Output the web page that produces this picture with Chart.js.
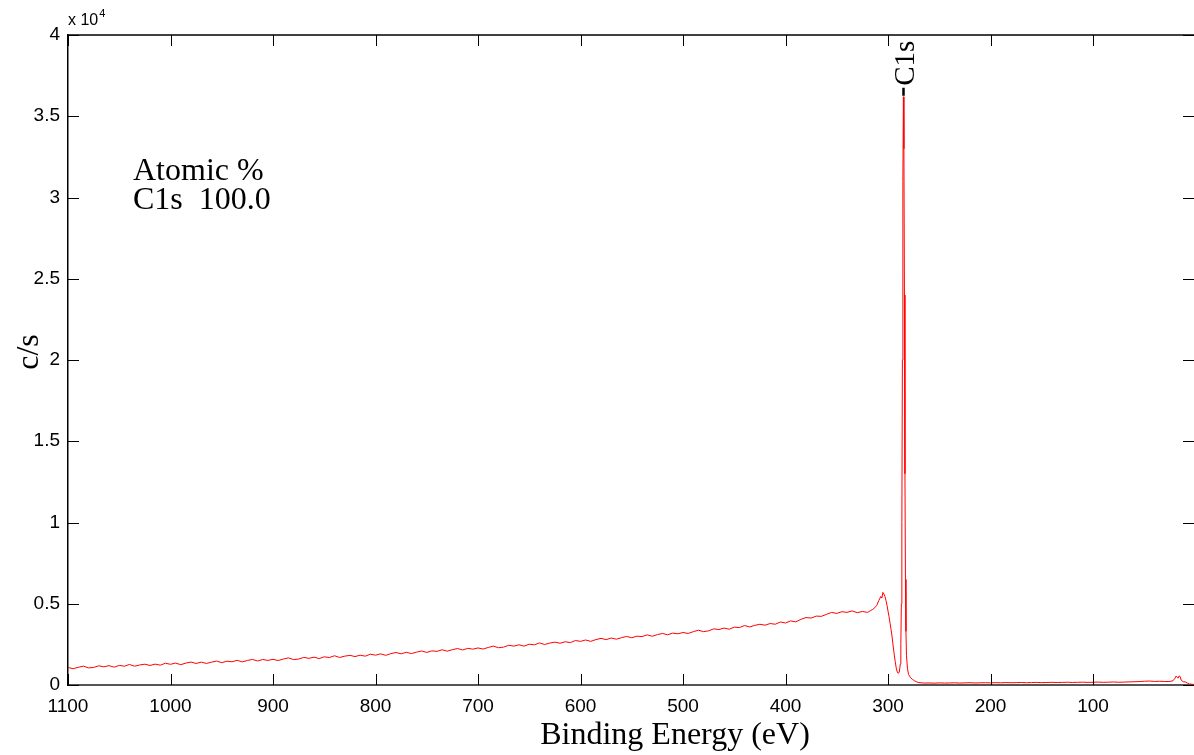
<!DOCTYPE html>
<html>
<head>
<meta charset="utf-8">
<script src="https://cdn.jsdelivr.net/npm/chart.js@4/dist/chart.umd.min.js"></script>
<style>
  html, body { margin: 0; padding: 0; background: #fff; }
  #wrap { width: 1194px; height: 755px; position: relative; }
</style>
</head>
<body>
<div id="wrap"><canvas id="c"></canvas></div>
<script>
// Binding energy (eV) of each sample
const bindingEnergy = [
  1100,1095,1090,1085,1080,1075,1070,1065,1060,1055,1050,1045,1040,1035,1030,1025,1020,1015,1010,1005,
  1000,995,990,985,980,975,970,965,960,955,950,945,940,935,930,925,920,915,910,905,
  900,895,890,885,880,875,870,865,860,855,850,845,840,835,830,825,820,815,810,805,
  800,795,790,785,780,775,770,765,760,755,750,745,740,735,730,725,720,715,710,705,
  700,695,690,685,680,675,670,665,660,655,650,645,640,635,630,625,620,615,610,605,
  600,595,590,585,580,575,570,565,560,555,550,545,540,535,530,525,520,515,510,505,
  500,495,490,485,480,475,470,465,460,455,450,445,440,435,430,425,420,415,410,405,
  400,395,390,385,380,375,370,365,360,355,350,345,340,335,330,325,320,317,315,313,
  311,309,307,306,305,304,303,302,301,300,299,298,297,296,295,294,293,292,291,290,
  289,288,287.5,287,286.5,286,285.5,285,284.5,284,283.5,283,282.5,282,281,280,278,276,274,272,
  270,267,264,260,255,250,245,240,235,230,225,220,215,210,205,200,195,190,185,180,
  175,170,165,160,155,150,145,140,135,130,125,120,115,110,105,100,95,90,85,80,
  75,70,65,60,55,50,45,40,35,30,25,22,20,19,18,17,16,15,14,12,
  10,8,6,4,2
];
// Intensity (counts per second)
const countsPerSecond = [
  1080,1002,1089,1161,1053,1080,1182,1119,1191,1098,1205,1157,1264,1156,1233,1280,1202,1284,1221,1338,
  1275,1348,1251,1349,1412,1325,1408,1326,1404,1472,1375,1463,1426,1519,1422,1510,1573,1476,1569,1512,
  1580,1505,1595,1670,1565,1595,1700,1640,1715,1625,1735,1690,1800,1695,1775,1825,1750,1835,1775,1895,
  1835,1915,1825,1930,2000,1920,2010,1935,2020,2095,2005,2100,2070,2170,2080,2175,2245,2155,2255,2205,
  2280,2212,2310,2392,2295,2332,2445,2392,2475,2392,2510,2472,2590,2492,2580,2637,2570,2662,2610,2737,
  2685,2770,2685,2795,2870,2795,2890,2820,2910,2990,2905,3005,2980,3085,3000,3100,3175,3090,3195,3150,
  3230,3172,3280,3372,3285,3332,3455,3412,3505,3432,3560,3532,3660,3572,3670,3737,3680,3782,3740,3877,
  3815,3945,3885,4040,4150,4120,4240,4225,4350,4465,4405,4510,4470,4560,4450,4525,4470,4580,4650,4750,
  4900,5200,5450,5350,5700,5600,5450,5200,4900,4550,4200,3800,3400,2950,2400,1900,1450,1050,800,720,
  800,1300,2500,5000,10000,20000,31000,36200,33000,24000,13000,6500,3300,1800,1000,650,450,340,250,190,
  150,130,120,125,115,130,120,125,135,120,130,140,125,135,140,130,145,135,150,140,
  145,155,140,150,160,145,155,165,150,160,170,155,165,175,160,170,180,165,175,185,
  170,180,190,200,210,230,245,220,230,215,220,260,420,550,480,420,560,520,300,200,
  190,120,60,50,40
];
// Axis ticks
const xTickValues = [1100,1000,900,800,700,600,500,400,300,200,100];
const yTickValues = [0,5000,10000,15000,20000,25000,30000,35000,40000];
const yScaleFactor = 10000;
// Peak annotation and quantification text
const peakLabel = 'C1s';
const peakEnergy = 285;
const quantLines = ['Atomic %', 'C1s  100.0'];

const points = bindingEnergy.map((e, i) => ({ x: e, y: countsPerSecond[i] }));

const decor = {
  id: 'decor',
  afterDraw(chart) {
    const ctx = chart.ctx;
    const a = chart.chartArea;
    const xs = chart.scales.x, ys = chart.scales.y;
    ctx.save();
    // frame top
    ctx.strokeStyle = '#000';
    ctx.lineWidth = 1.5;
    ctx.beginPath();
    ctx.moveTo(a.left, a.top); ctx.lineTo(a.right, a.top);
    ctx.stroke();
    // inward ticks
    ctx.lineWidth = 1;
    ctx.strokeStyle = '#000';
    const L = 11;
    ctx.beginPath();
    xTickValues.forEach(v => {
      const px = Math.round(xs.getPixelForValue(v)) + 0.5;
      ctx.moveTo(px, a.bottom); ctx.lineTo(px, a.bottom - L);
      ctx.moveTo(px, a.top); ctx.lineTo(px, a.top + L);
    });
    yTickValues.forEach(v => {
      const py = Math.round(ys.getPixelForValue(v)) + 0.5;
      ctx.moveTo(a.left, py); ctx.lineTo(a.left + L, py);
      ctx.moveTo(a.right, py); ctx.lineTo(a.right - L, py);
    });
    ctx.stroke();

    // exponent label
    ctx.fillStyle = '#000';
    ctx.textBaseline = 'alphabetic';
    ctx.textAlign = 'left';
    ctx.font = '16px "Liberation Sans", Arial, sans-serif';
    ctx.fillText('x 10', a.left, 25);
    const w = ctx.measureText('x 10').width;
    ctx.font = '11px "Liberation Sans", Arial, sans-serif';
    ctx.fillText('4', a.left + w + 1, 17);

    // axis titles
    ctx.font = '32px "Liberation Serif", "Times New Roman", serif';
    ctx.textAlign = 'center';
    ctx.fillText('Binding Energy (eV)', 675, 744);
    ctx.save();
    ctx.translate(38, 352);
    ctx.rotate(-Math.PI / 2);
    ctx.font = '32px "Liberation Serif", "Times New Roman", serif';
    ctx.fillText('c/s', 0, 0);
    ctx.restore();

    // quantification text
    ctx.textAlign = 'left';
    ctx.font = '32px "Liberation Serif", "Times New Roman", serif';
    ctx.fillText(quantLines[0], 133, 180);
    ctx.fillText(quantLines[1], 133, 209);

    // peak label
    const peakIdx = bindingEnergy.indexOf(peakEnergy);
    const ppx = Math.round(xs.getPixelForValue(peakEnergy)) + 0.5;
    const ppy = ys.getPixelForValue(countsPerSecond[peakIdx]);
    ctx.lineWidth = 2.5;
    ctx.beginPath();
    ctx.moveTo(ppx, ppy - 1); ctx.lineTo(ppx, ppy - 9);
    ctx.stroke();
    ctx.save();
    ctx.translate(ppx + 10, ppy - 11);
    ctx.rotate(-Math.PI / 2);
    ctx.font = '29px "Liberation Serif", "Times New Roman", serif';
    ctx.textAlign = 'left';
    ctx.fillText(peakLabel, 0, 0);
    ctx.restore();
    ctx.restore();
  }
};

new Chart(document.getElementById('c'), {
  type: 'line',
  data: {
    datasets: [{
      data: points,
      borderColor: '#ff0000',
      borderWidth: 1,
      pointRadius: 0,
      tension: 0,
      fill: false
    }]
  },
  options: {
    responsive: true,
    maintainAspectRatio: false,
    animation: false,
    devicePixelRatio: 1,
    layout: { padding: { top: 35, right: 0, left: 0, bottom: 0 } },
    plugins: { legend: { display: false }, tooltip: { enabled: false } },
    scales: {
      x: {
        type: 'linear',
        reverse: true,
        min: 1.5,
        max: 1100,
        afterBuildTicks: s => { s.ticks = xTickValues.map(v => ({ value: v })); },
        afterFit: s => { s.height = 70; },
        grid: { display: false },
        border: { display: true, color: '#555', width: 2 },
        ticks: {
          color: '#000',
          font: { family: '"Liberation Sans", Arial, sans-serif', size: 19 },
          padding: 2,
          maxRotation: 0,
          autoSkip: false,
          callback: v => String(v)
        }
      },
      y: {
        type: 'linear',
        min: 0,
        max: 40000,
        afterBuildTicks: s => { s.ticks = yTickValues.map(v => ({ value: v })); },
        afterFit: s => { s.width = 68; },
        grid: { display: false },
        border: { display: true, color: '#000', width: 1.5 },
        ticks: {
          color: '#000',
          font: { family: '"Liberation Sans", Arial, sans-serif', size: 19 },
          padding: 0,
          callback: v => String(v / yScaleFactor)
        }
      }
    }
  },
  plugins: [decor]
});
</script>
</body>
</html>
